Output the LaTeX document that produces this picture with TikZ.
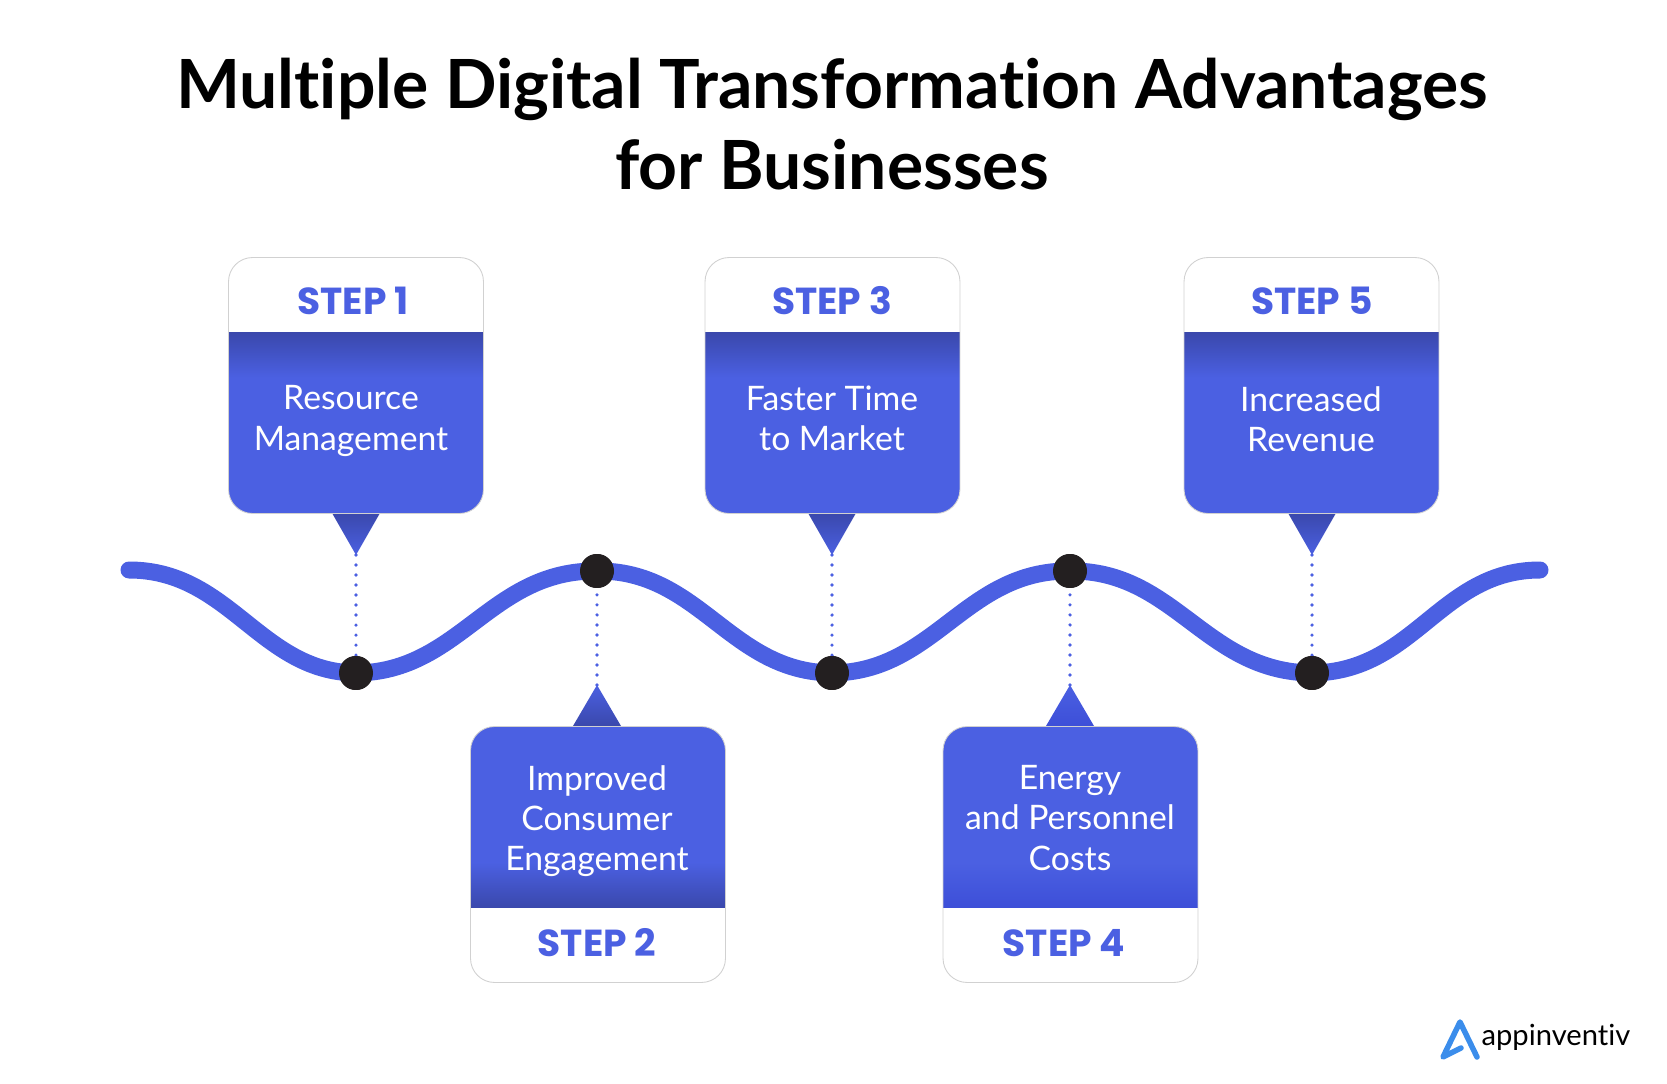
\documentclass[tikz,border=0pt]{standalone}
\usepackage{fontspec}
\setmainfont{Lato}[Ligatures=NoCommon]
\newfontfamily\stepfont{Poppins}
\usetikzlibrary{calc}
\definecolor{stepblue}{HTML}{4B60E2}
\definecolor{stepdark}{HTML}{3A48AC}
\definecolor{stepdeep}{HTML}{3D4FD8}
\definecolor{dotblack}{HTML}{231F20}
\definecolor{logoblue}{HTML}{3B8DEB}
\tikzset{
  stepcard/.style={rectangle, draw=black!18, fill=white, line width=0.5pt, rounded corners=0.48cm, minimum width=5.1cm, minimum height=5.12cm, inner sep=0pt},
  cardtop/.style={stepcard, path picture={
      \fill[stepblue, sharp corners] ($(path picture bounding box.north west)+(0,75)$) rectangle (path picture bounding box.south east);
      \shade[top color=stepdark, bottom color=stepblue, sharp corners] ($(path picture bounding box.north west)+(0,75)$) rectangle ($(path picture bounding box.north east)+(0,120)$);}},
  cardbot/.style={stepcard, path picture={
      \fill[stepblue, sharp corners] (path picture bounding box.north west) rectangle ($(path picture bounding box.south east)+(0,-75)$);
      \shade[top color=stepblue, bottom color=#1, sharp corners] ($(path picture bounding box.south west)+(0,-120)$) rectangle ($(path picture bounding box.south east)+(0,-75)$);}},
  steplabel/.style={text=stepblue, font=\stepfont\bfseries\fontsize{21.4}{25}\selectfont},
  steptext/.style={text=white, align=center, font=\fontsize{19.2}{22.8}\selectfont},
  waypoint/.style={circle, fill=dotblack, minimum size=0.68cm, inner sep=0pt},
  wave/.style={draw=stepblue, line width=0.34cm, line cap=round},
  stepdots/.style={draw=stepblue, line width=2.1pt, line cap=round, dash pattern=on 0pt off 5.7pt}
}
\begin{document}
\begin{tikzpicture}[x=0.02cm,y=-0.02cm]
  \useasboundingbox (0,0) rectangle (1667,1084);
  \node[font=\bfseries\fontsize{38.6}{46.5}\selectfont, align=center] (title) at (832,124) {Multiple Digital Transformation Advantages\\for Businesses};
  \coordinate (wavestart) at (129,570);
  \coordinate (waveend) at (1540,570);
  \node[waypoint] (dota) at (356,673) {};
  \node[waypoint] (dotb) at (597,571) {};
  \node[waypoint] (dotc) at (832,673) {};
  \node[waypoint] (dotd) at (1070,571) {};
  \node[waypoint] (dote) at (1312,673) {};
  \coordinate (tipa) at (356,555);
  \coordinate (tipb) at (597,685);
  \coordinate (tipc) at (832,555);
  \coordinate (tipd) at (1070,685);
  \coordinate (tipe) at (1312,555);
  \draw[stepdots] (tipa) -- (dota);
  \draw[stepdots] (tipb) -- (dotb);
  \draw[stepdots] (tipc) -- (dotc);
  \draw[stepdots] (tipd) -- (dotd);
  \draw[stepdots] (tipe) -- (dote);
  \draw[wave] (wavestart) .. controls (230,570) and (260,672) .. (dota.center)
    .. controls (460,672) and (490,570) .. (dotb.center)
    .. controls (700,570) and (730,672) .. (dotc.center)
    .. controls (935,672) and (965,570) .. (dotd.center)
    .. controls (1175,570) and (1205,672) .. (dote.center)
    .. controls (1415,672) and (1440,570) .. (waveend);
  \node[waypoint] at (dota) {};
  \node[waypoint] at (dotb) {};
  \node[waypoint] at (dotc) {};
  \node[waypoint] at (dotd) {};
  \node[waypoint] at (dote) {};
  \shade[top color=stepdark, bottom color=stepblue] (332,513) -- (380,513) -- (tipa) -- cycle;
  \shade[top color=stepblue, bottom color=stepdark] (tipb) -- (621,726) -- (573,726) -- cycle;
  \shade[top color=stepdark, bottom color=stepblue] (808,513) -- (856,513) -- (tipc) -- cycle;
  \shade[top color=stepblue, bottom color=stepdeep] (tipd) -- (1094,726) -- (1046,726) -- cycle;
  \shade[top color=stepdark, bottom color=stepblue] (1288,513) -- (1336,513) -- (tipe) -- cycle;
  \node[cardtop] (carda) at (356,385.5) {};
  \node[cardbot=stepdark] (cardb) at (598,854.5) {};
  \node[cardtop] (cardc) at (832.5,385.5) {};
  \node[cardbot=stepdeep] (cardd) at (1070.5,854.5) {};
  \node[cardtop] (carde) at (1311.5,385.5) {};
  \node[steplabel] (stepa) at (353,301) {STEP 1};
  \node[steplabel] (stepb) at (597,943) {STEP 2};
  \node[steplabel] (stepc) at (832,301) {STEP 3};
  \node[steplabel] (stepd) at (1064,943) {STEP 4};
  \node[steplabel] (stepe) at (1312,301) {STEP 5};
  \node[steptext] (texta) at (351,421) {Resource\\Management};
  \node[steptext] (textb) at (597,821) {Improved\\Consumer\\Engagement};
  \node[steptext] (textc) at (832,418) {Faster Time\\to Market};
  \node[steptext] (textd) at (1070,818) {Energy\\and Personnel\\Costs};
  \node[steptext] (texte) at (1311,419) {Increased\\Revenue};
  \coordinate (logoapex) at (1460,1022);
  \coordinate (logoleft) at (1443,1057);
  \coordinate (logoright) at (1477,1057);
  \coordinate (logoinner) at (1461,1048);
  \draw[logoblue, line width=0.11cm, line cap=round, line join=round] (logoinner) -- (logoleft) -- (logoapex) -- (logoright);
  \node[font=\fontsize{16.6}{20}\selectfont] (logotext) at (1556,1037) {appinventiv};
\end{tikzpicture}
\end{document}
